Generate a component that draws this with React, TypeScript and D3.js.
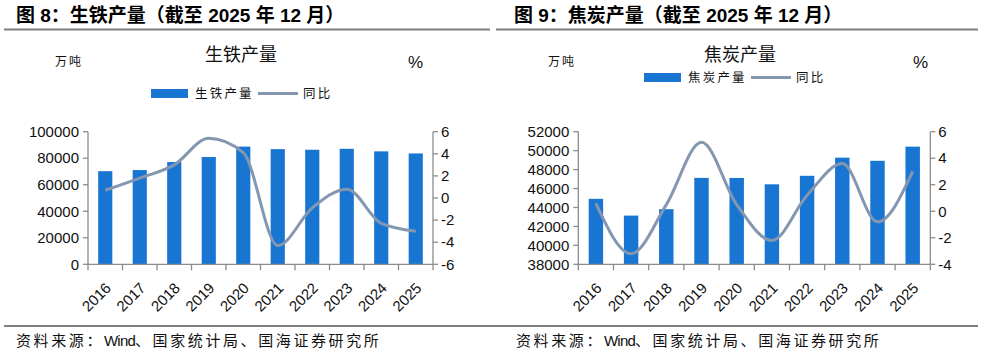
import React from 'react';
import * as d3 from 'd3';

const years = ['2016', '2017', '2018', '2019', '2020', '2021', '2022', '2023', '2024', '2025'];
const pigIron = [70227, 71076, 77105, 80937, 88752, 86857, 86383, 87101, 85174, 83600];
const pigIronYoy = [0.7, 1.8, 3.0, 5.4, 4.1, -4.3, -0.9, 0.8, -2.3, -3.0];
const coke = [44911, 43143, 43820, 47126, 47116, 46446, 47344, 49260, 48927, 50420];
const cokeYoy = [0.6, -3.2, 0.5, 5.2, 0.5, -2.2, 1.2, 3.6, -0.8, 3.0];
const pigLeftTicks = [0, 20000, 40000, 60000, 80000, 100000];
const pigRightTicks = [-6, -4, -2, 0, 2, 4, 6];
const cokeLeftTicks = [38000, 40000, 42000, 44000, 46000, 48000, 50000, 52000];
const cokeRightTicks = [-4, -2, 0, 2, 4, 6];

const CJK = '"Noto Sans CJK SC", sans-serif';
const NUM = '"Liberation Sans", Arial, sans-serif';
const BAR = '#1876d2';
const LINE = '#8497b0';
const AXIS = '#8c8c8c';

type PanelProps = {
  header: React.ReactNode;
  headerX: number;
  ruleX0: number;
  ruleX1: number;
  chartTitle: string;
  barName: string;
  titleX: number;
  unitX: number;
  pctX: number;
  legendX: number;
  legendY: number;
  x0: number;
  x1: number;
  leftDomain: [number, number];
  leftTicks: number[];
  rightDomain: [number, number];
  rightTicks: number[];
  bars: number[];
  yoy: number[];
};

function Panel(p: PanelProps) {
  const yTop = 131.7;
  const yBot = 264.3;
  const x = d3.scaleBand<string>().domain(years).range([p.x0, p.x1]).paddingInner(0.59).paddingOuter(0.295);
  const step = (p.x1 - p.x0) / years.length;
  const yL = d3.scaleLinear().domain(p.leftDomain).range([yBot, yTop]);
  const yR = d3.scaleLinear().domain(p.rightDomain).range([yBot, yTop]);
  const cx = (d: string) => (x(d) as number) + x.bandwidth() / 2;
  const line = d3
    .line<number>()
    .x((_, i) => cx(years[i]))
    .y((v) => yR(v))
    .curve(d3.curveMonotoneX);
  return (
    <g>
      <text x={p.headerX} y={22} fontFamily={`${NUM.split(',')[0]}, ${CJK}`} fontWeight="bold" fontSize={19} fill="#000">
        {p.header}
      </text>
      <line x1={p.ruleX0} x2={p.ruleX1} y1={29.5} y2={29.5} stroke="#7f7f7f" strokeWidth={2} />
      <text x={p.titleX} y={61} textAnchor="middle" fontFamily={CJK} fontSize={18} fill="#111">
        {p.chartTitle}
      </text>
      <text x={p.unitX} y={66} fontFamily={CJK} fontSize={12} letterSpacing={2} fill="#111">
        万吨
      </text>
      <text x={p.pctX} y={68} fontFamily={NUM} fontSize={17} fill="#111">
        %
      </text>
      {/* legend */}
      <rect x={p.legendX} y={p.legendY - 4.5} width={37} height={9} fill={BAR} />
      <text x={p.legendX + 44} y={p.legendY + 4.5} fontFamily={CJK} fontSize={12.5} letterSpacing={2.2} fill="#111">
        {p.barName}
      </text>
      <line x1={p.legendX + 107} x2={p.legendX + 147} y1={p.legendY} y2={p.legendY} stroke={LINE} strokeWidth={3} />
      <text x={p.legendX + 152} y={p.legendY + 4.5} fontFamily={CJK} fontSize={12.5} letterSpacing={2.2} fill="#111">
        同比
      </text>
      {/* bars */}
      {years.map((yr, i) => (
        <rect key={yr} x={x(yr)} y={yL(p.bars[i])} width={x.bandwidth()} height={yBot - yL(p.bars[i])} fill={BAR} />
      ))}
      {/* axes */}
      <line x1={p.x0} x2={p.x0} y1={yTop} y2={yBot} stroke={AXIS} strokeWidth={1.3} />
      <line x1={p.x1} x2={p.x1} y1={yTop} y2={yBot} stroke={AXIS} strokeWidth={1.3} />
      <line x1={p.x0} x2={p.x1} y1={yBot} y2={yBot} stroke={AXIS} strokeWidth={1.3} />
      {p.leftTicks.map((t) => (
        <g key={'l' + t}>
          <line x1={p.x0 - 5} x2={p.x0} y1={yL(t)} y2={yL(t)} stroke={AXIS} strokeWidth={1.3} />
          <text x={p.x0 - 9} y={yL(t)} dy="0.35em" textAnchor="end" fontFamily={NUM} fontSize={15} fill="#111">
            {t}
          </text>
        </g>
      ))}
      {p.rightTicks.map((t) => (
        <g key={'r' + t}>
          <line x1={p.x1} x2={p.x1 + 5} y1={yR(t)} y2={yR(t)} stroke={AXIS} strokeWidth={1.3} />
          <text x={p.x1 + 8} y={yR(t)} dy="0.35em" textAnchor="start" fontFamily={NUM} fontSize={15} fill="#111">
            {t}
          </text>
        </g>
      ))}
      {d3.range(years.length + 1).map((i) => (
        <line key={'xt' + i} x1={p.x0 + i * step} x2={p.x0 + i * step} y1={yBot} y2={yBot + 6} stroke={AXIS} strokeWidth={1.3} />
      ))}
      {years.map((yr) => (
        <text
          key={'xl' + yr}
          transform={`translate(${cx(yr) + 3},${yBot + 21}) rotate(-45)`}
          textAnchor="end"
          dy="0.35em"
          fontFamily={NUM}
          fontSize={15}
          fill="#111"
        >
          {yr}
        </text>
      ))}
      <path d={line(p.yoy) || ''} fill="none" stroke={LINE} strokeWidth={3} />
    </g>
  );
}

function Source({ x }: { x: number }) {
  return (
    <text x={x} y={346} fontFamily={CJK} fontSize={15} fill="#111">
      <tspan letterSpacing={2.6}>资料来源：</tspan>
      <tspan fontFamily={NUM} letterSpacing={-0.8}>Wind</tspan>
      <tspan letterSpacing={2.6}>、国家统计局、国海证券研究所</tspan>
    </text>
  );
}

export default function App() {
  return (
    <svg
      width={982}
      height={358}
      viewBox="0 0 982 358"
      style={{ position: 'absolute', left: 0, top: 0, background: '#fff' }}
    >
      <rect width={982} height={358} fill="#fff" />
      <Panel
        header={<>图 8：生铁产量（截至 2025 年 12 月）</>}
        headerX={16}
        ruleX0={4}
        ruleX1={490}
        chartTitle="生铁产量"
        barName="生铁产量"
        titleX={241}
        unitX={55}
        pctX={408}
        legendX={151}
        legendY={93.5}
        x0={88}
        x1={433}
        leftDomain={[0, 100000]}
        leftTicks={pigLeftTicks}
        rightDomain={[-6, 6]}
        rightTicks={pigRightTicks}
        bars={pigIron}
        yoy={pigIronYoy}
      />
      <Panel
        header={<>图 9：焦炭产量（截至 2025 年 12 月）</>}
        headerX={514}
        ruleX0={496}
        ruleX1={978}
        chartTitle="焦炭产量"
        barName="焦炭产量"
        titleX={740}
        unitX={548}
        pctX={913}
        legendX={644}
        legendY={77.5}
        x0={578.3}
        x1={930.3}
        leftDomain={[38000, 52000]}
        leftTicks={cokeLeftTicks}
        rightDomain={[-4, 6]}
        rightTicks={cokeRightTicks}
        bars={coke}
        yoy={cokeYoy}
      />
      <line x1={4} x2={978} y1={326} y2={326} stroke="#7f7f7f" strokeWidth={2} />
      <Source x={16} />
      <Source x={516} />
    </svg>
  );
}
